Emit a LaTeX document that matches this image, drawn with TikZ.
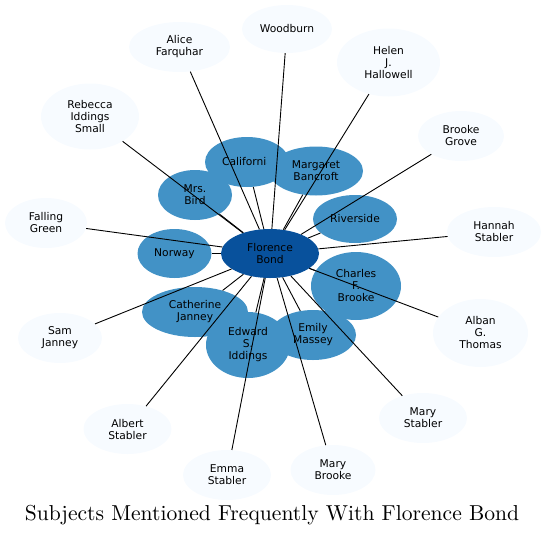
\documentclass[tikz,border=0pt]{standalone}
\usepackage{fontspec}
\setmainfont{Latin Modern Roman}
\newfontfamily\titlefont[Extension=.otf]{lmroman10-regular}
\newfontfamily\labelfont{DejaVu Sans}
\usetikzlibrary{shapes.geometric}
\definecolor{outerc}{HTML}{F7FBFF}
\definecolor{innerc}{HTML}{4292C6}
\definecolor{centerc}{HTML}{08519C}
\tikzset{
  bub/.style n args={2}{ellipse, inner sep=0pt, minimum width=#1pt, minimum height=#2pt,
     align=center, font=\labelfont\fontsize{10.7}{12}\selectfont, text=black},
  outerbub/.style n args={2}{bub={#1}{#2}, fill=outerc},
  innerbub/.style n args={2}{bub={#1}{#2}, fill=innerc},
  centerbub/.style n args={2}{bub={#1}{#2}, fill=centerc},
  link/.style={draw=black, line width=0.9pt},
}
\begin{document}
\begin{tikzpicture}[x=1pt, y=-1pt]
\useasboundingbox (0,0) rectangle (545,536);
% outer nodes
\node[outerbub={90}{48}] (woodburn) at (287,29) {Woodburn};
\node[outerbub={101}{50}] (alice) at (179.5,47) {Alice\\Farquhar};
\node[outerbub={103}{68}] (helen) at (388.5,62.5) {Helen\\J.\\Hallowell};
\node[outerbub={98}{66}] (rebecca) at (90,116.5) {Rebecca\\Iddings\\Small};
\node[outerbub={86}{50}] (brookegrove) at (461,136) {Brooke\\Grove};
\node[outerbub={82}{50}] (falling) at (46,223) {Falling\\Green};
\node[outerbub={94}{50}] (hannah) at (494,232) {Hannah\\Stabler};
\node[outerbub={84}{50}] (sam) at (60,338) {Sam\\Janney};
\node[outerbub={95}{68}] (alban) at (480.5,333) {Alban\\G.\\Thomas};
\node[outerbub={88}{50}] (albert) at (127.5,429) {Albert\\Stabler};
\node[outerbub={88}{50}] (emma) at (227,475) {Emma\\Stabler};
\node[outerbub={85}{50}] (marybrooke) at (333,470) {Mary\\Brooke};
\node[outerbub={88}{50}] (marystabler) at (423,418) {Mary\\Stabler};
% inner nodes
\node[innerbub={84}{50}] (californi) at (247,162) {};
\begin{scope}
  \clip (200,140) rectangle (266.5,190);
  \node[font=\labelfont\fontsize{10.7}{12}\selectfont, text=black, inner sep=0pt] (californilabel) at (247.5,161.5) {California};
\end{scope}
\node[innerbub={94}{49}] (margaret) at (316,171) {Margaret\\Bancroft};
\node[innerbub={74}{50}] (bird) at (195,195) {Mrs.\\Bird};
\node[innerbub={84}{48}] (riverside) at (355,219) {Riverside};
\node[innerbub={74}{49}] (norway) at (174.5,253.5) {Norway};
\node[innerbub={90}{68}] (charles) at (356,286) {Charles\\F.\\Brooke};
\node[innerbub={106}{50}] (catherine) at (195,312) {Catherine\\Janney};
\node[innerbub={84}{66}] (edward) at (248,345) {Edward\\S.\\Iddings};
\node[innerbub={86}{50}] (emily) at (313,335) {Emily\\Massey};
% center
\node[centerbub={98}{49}] (florence) at (270,253.5) {Florence\\Bond};
% edges
\foreach \n in {woodburn,alice,helen,rebecca,brookegrove,falling,hannah,sam,alban,albert,emma,marybrooke,marystabler,californi,margaret,bird,riverside,norway,charles,catherine,edward,emily}
  \draw[link] (florence) -- (\n);
% title
\node[anchor=base, inner sep=0pt, font=\titlefont\fontsize{21.6}{24}\selectfont] (title) at (272,520) {Subjects Mentioned Frequently With Florence Bond};
\end{tikzpicture}
\end{document}
